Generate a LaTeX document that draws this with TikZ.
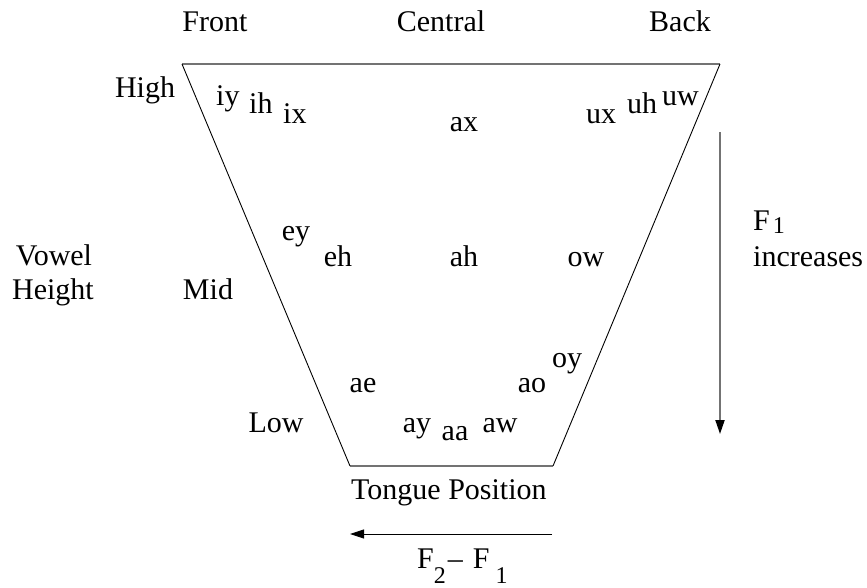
\documentclass[tikz,border=0pt]{standalone}
\usepackage{fontspec}
\setmainfont{Liberation Serif}
\usetikzlibrary{arrows.meta}
\begin{document}
\begin{tikzpicture}[x=1pt,y=-1pt,
  lbl/.style={inner sep=0pt,anchor=base,font=\fontsize{30}{33}\selectfont},
  lbll/.style={lbl,anchor=base west},
  side/.style={draw=black,line width=0.9pt},
  rim/.style={draw=black!55,line width=2pt},
  arr/.style={-{Triangle[length=14pt,width=9pt,color=black]}}]
\useasboundingbox (0,0) rectangle (867,587);
% trapezoid corners
\coordinate (tl) at (182,64);
\coordinate (tr) at (720,64);
\coordinate (bl) at (350,466);
\coordinate (br) at (553,466);
\draw[rim] (tl) -- (tr);
\draw[rim] (bl) -- (br);
\draw[side] (tl) -- (bl);
\draw[side] (tr) -- (br);
% column headings
\node[lbl] (front) at (215,31) {Front};
\node[lbl] (central) at (441,31) {Central};
\node[lbl] (back) at (680,31) {Back};
% row headings
\node[lbl] (high) at (145,97) {High};
\node[lbl] (mid) at (208,299) {Mid};
\node[lbl] (low) at (276,432) {Low};
\node[lbl] (vowel) at (54,265) {Vowel};
\node[lbl] (height) at (53,299) {Height};
% vowels
\node[lbll] (iy) at (216,105) {iy};
\node[lbll] (ih) at (249,113) {ih};
\node[lbll] (ix) at (283,123) {ix};
\node[lbl] (ax) at (464,131) {ax};
\node[lbll] (ux) at (586,123) {ux};
\node[lbll] (uh) at (627,113) {uh};
\node[lbll] (uw) at (662,105) {uw};
\node[lbl] (ey) at (296,240) {ey};
\node[lbl] (eh) at (338,266) {eh};
\node[lbl] (ah) at (464,266) {ah};
\node[lbl] (ow) at (586,266) {ow};
\node[lbl] (oy) at (567,367) {oy};
\node[lbl] (ae) at (363,392) {ae};
\node[lbl] (ao) at (532,392) {ao};
\node[lbl] (ay) at (417,432) {ay};
\node[lbl] (aa) at (455,440) {aa};
\node[lbl] (aw) at (500,432) {aw};
% F1 arrow
\coordinate (vtop) at (720,132);
\coordinate (vbot) at (720,434);
\draw[arr,draw=black!55,line width=2pt] (vtop) -- (vbot);
\node[lbll] (f1) at (753,230) {F\hspace{3pt}\raisebox{-3pt}{\fontsize{24}{26}\selectfont 1}};
\node[lbll] (incr) at (753,266) {increases};
% tongue position
\node[lbll] (tongue) at (351,499) {Tongue Position};
\coordinate (hr) at (552,534);
\coordinate (hl) at (350,534);
\draw[arr,draw=black,line width=0.9pt] (hr) -- (hl);
\node[lbll] (f2f1) at (417,568) {F\raisebox{-15pt}{\fontsize{24}{26}\selectfont 2}\hspace{2pt}–\hspace{10pt}F\hspace{6pt}\raisebox{-15pt}{\fontsize{24}{26}\selectfont 1}};
\end{tikzpicture}
\end{document}
